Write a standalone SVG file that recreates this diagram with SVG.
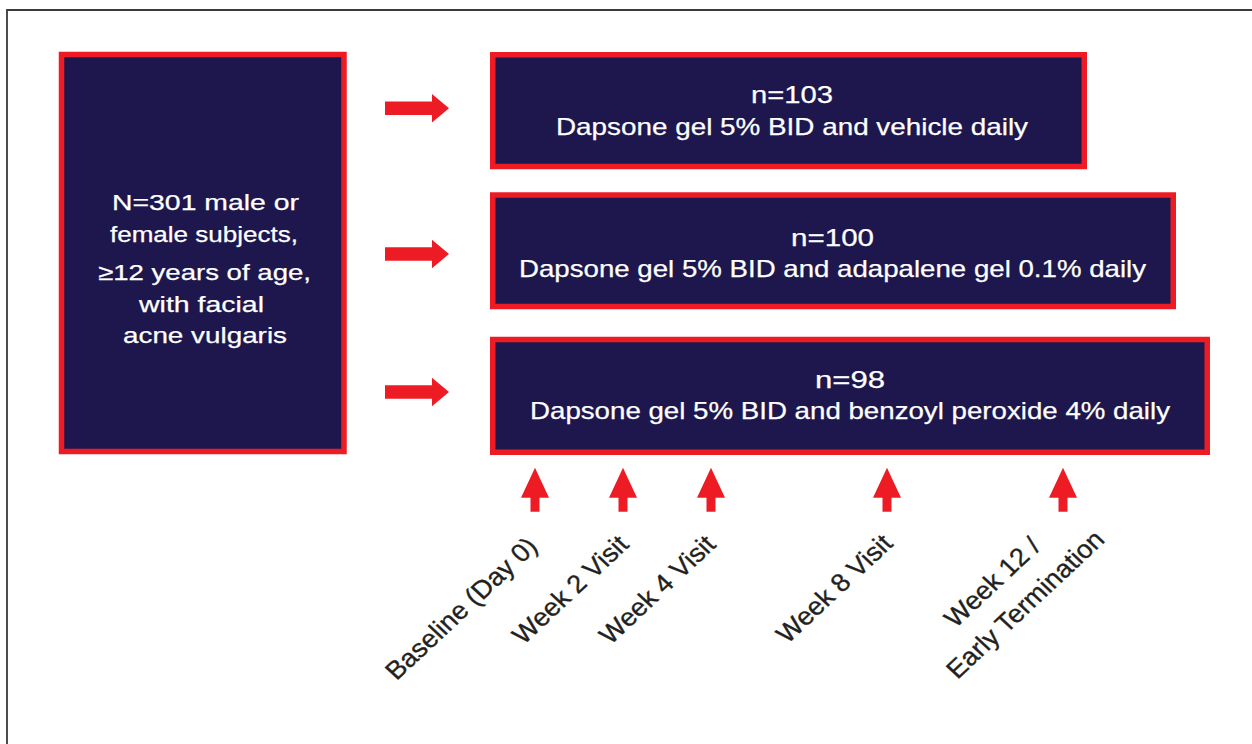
<svg xmlns="http://www.w3.org/2000/svg" width="1252" height="744" viewBox="0 0 1252 744">
  <defs>
    <style>
      .box { fill: #1d174d; stroke: #ed1c24; stroke-width: 5.5; }
      .arrow { fill: #ed1c24; }
      .wt { font-family: "Liberation Sans", Arial, sans-serif; fill: #ffffff; text-anchor: middle; stroke: #ffffff; stroke-width: 0.25; }
      .lbl { font-family: "Liberation Sans", Arial, sans-serif; fill: #231f20; stroke: #231f20; stroke-width: 0.35; font-size: 25.5px; text-anchor: end; }
      .frame { fill: none; stroke: #3a3a3a; stroke-width: 1.8; }
    </style>
  </defs>
  <rect x="0" y="0" width="1252" height="744" fill="#ffffff"/>
  <path class="frame" d="M7,744 V10 H1252"/>

  <g id="population">
    <rect class="box" x="61.5" y="54.5" width="282.5" height="397"/>
    <text class="wt" font-size="22" x="205.5" y="210" textLength="187" lengthAdjust="spacingAndGlyphs">N=301 male or</text>
    <text class="wt" font-size="22" x="204" y="241.5" textLength="188" lengthAdjust="spacingAndGlyphs">female subjects,</text>
    <text class="wt" font-size="22" x="204.5" y="280" textLength="213" lengthAdjust="spacingAndGlyphs">≥12 years of age,</text>
    <text class="wt" font-size="22" x="201.5" y="311.5" textLength="125" lengthAdjust="spacingAndGlyphs">with facial</text>
    <text class="wt" font-size="22" x="205" y="343" textLength="164" lengthAdjust="spacingAndGlyphs">acne vulgaris</text>
  </g>

  <g id="arm1">
    <rect class="box" x="492.75" y="54.75" width="591.5" height="111.75"/>
    <text class="wt" font-size="24" x="792" y="103" textLength="82" lengthAdjust="spacingAndGlyphs">n=103</text>
    <text class="wt" font-size="24" x="792" y="135" textLength="472" lengthAdjust="spacingAndGlyphs">Dapsone gel 5% BID and vehicle daily</text>
  </g>

  <g id="arm2">
    <rect class="box" x="492.75" y="195" width="680.5" height="111.5"/>
    <text class="wt" font-size="24" x="832.5" y="246" textLength="83" lengthAdjust="spacingAndGlyphs">n=100</text>
    <text class="wt" font-size="24" x="832.5" y="277" textLength="627" lengthAdjust="spacingAndGlyphs">Dapsone gel 5% BID and adapalene gel 0.1% daily</text>
  </g>

  <g id="arm3">
    <rect class="box" x="492.75" y="339.5" width="714.5" height="112.75"/>
    <text class="wt" font-size="24" x="850" y="388" textLength="70" lengthAdjust="spacingAndGlyphs">n=98</text>
    <text class="wt" font-size="24" x="850" y="419" textLength="640" lengthAdjust="spacingAndGlyphs">Dapsone gel 5% BID and benzoyl peroxide 4% daily</text>
  </g>

  <g id="connectors">
    <polygon class="arrow" points="385,101.5 432,101.5 432,94 449,108.3 432,122.6 432,115 385,115"/>
    <polygon class="arrow" points="385,247.2 432,247.2 432,239.7 449,254 432,268.3 432,260.7 385,260.7"/>
    <polygon class="arrow" points="385,385.2 432,385.2 432,377.7 449,392 432,406.3 432,398.7 385,398.7"/>

    <polygon class="arrow" points="535,467.7 549,497.7 539.5,497.7 539.5,511.7 530.5,511.7 530.5,497.7 521,497.7"/>
    <polygon class="arrow" points="623,467.7 637,497.7 627.5,497.7 627.5,511.7 618.5,511.7 618.5,497.7 609,497.7"/>
    <polygon class="arrow" points="711,467.7 725,497.7 715.5,497.7 715.5,511.7 706.5,511.7 706.5,497.7 697,497.7"/>
    <polygon class="arrow" points="887,467.7 901,497.7 891.5,497.7 891.5,511.7 882.5,511.7 882.5,497.7 873,497.7"/>
    <polygon class="arrow" points="1063,467.7 1077,497.7 1067.5,497.7 1067.5,511.7 1058.5,511.7 1058.5,497.7 1049,497.7"/>
  </g>

  <g id="timepoints">
    <text class="lbl" transform="translate(539 548) scale(1.07 1) rotate(-45)">Baseline (Day 0)</text>
    <text class="lbl" transform="translate(630 546) scale(1.07 1) rotate(-45)">Week 2 Visit</text>
    <text class="lbl" transform="translate(717 546) scale(1.07 1) rotate(-45)">Week 4 Visit</text>
    <text class="lbl" transform="translate(894 545) scale(1.07 1) rotate(-45)">Week 8 Visit</text>
    <text class="lbl" transform="translate(1042 548) scale(1.07 1) rotate(-45)">Week 12 /</text>
    <text class="lbl" transform="translate(1106 541) scale(1.07 1) rotate(-45)">Early Termination</text>
  </g>
</svg>
